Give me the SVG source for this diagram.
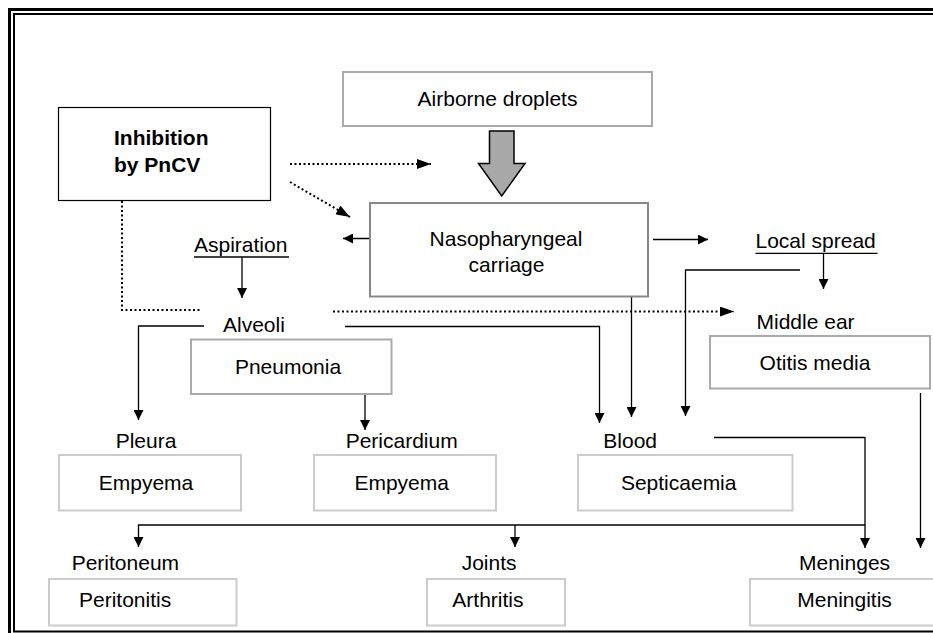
<svg xmlns="http://www.w3.org/2000/svg" width="933" height="633" viewBox="0 0 933 633">
<defs>
<style>
text{font-family:"Liberation Sans",Arial,sans-serif;font-size:21px;fill:#000}
.b{font-weight:bold}
.c{fill:none;stroke:#000;stroke-width:1.3}
.d{fill:none;stroke:#000;stroke-width:2;stroke-dasharray:2,2.5}
.bx{fill:#fff;stroke:#aaa;stroke-width:2}
.lt{fill:#fff;stroke:#ccc;stroke-width:2}
.ul{stroke:#000;stroke-width:1.3}
</style>
<marker id="ah" viewBox="0 0 10 10" refX="10" refY="5" markerWidth="10" markerHeight="10" markerUnits="userSpaceOnUse" orient="auto"><path d="M0,0L10,5L0,10z" fill="#000"/></marker>
<marker id="ahd" viewBox="0 0 14 10" refX="14" refY="5" markerWidth="14" markerHeight="10" markerUnits="userSpaceOnUse" orient="auto"><path d="M0,0L14,5L0,10z" fill="#000"/></marker>
</defs>
<rect x="0" y="0" width="933" height="633" fill="#fff"/>
<g id="frame">
<rect x="9.5" y="9.5" width="940" height="640" fill="none" stroke="#000" stroke-width="3"/>
<rect x="14" y="14" width="930" height="617.5" fill="none" stroke="#000" stroke-width="2"/>
</g>
<g id="connectors">
<path class="d" d="M290,164H431" marker-end="url(#ahd)"/>
<path class="d" d="M290,182L350,217" marker-end="url(#ahd)"/>
<path class="d" d="M122,201V310H201"/>
<path class="d" d="M333,311.5H734" marker-end="url(#ahd)"/>
<path class="c" d="M378,238.5H343" marker-end="url(#ah)"/>
<path class="c" d="M242,257V298" marker-end="url(#ah)"/>
<path class="c" d="M204,326H138.5V420" marker-end="url(#ah)"/>
<path class="c" d="M345,326.5H599.5V423" marker-end="url(#ah)"/>
<path class="c" d="M631.5,293V417" marker-end="url(#ah)"/>
<path class="c" d="M800,270H685.5V416" marker-end="url(#ah)"/>
<path class="c" d="M653,239.5H708" marker-end="url(#ah)"/>
<path class="c" d="M823.5,253V289" marker-end="url(#ah)"/>
<path class="c" d="M920.5,393V548" marker-end="url(#ah)"/>
<path class="c" d="M365,391V430" marker-end="url(#ah)"/>
<path class="c" d="M714,437.5H865V548" marker-end="url(#ah)"/>
<path class="c" d="M865,525H138.5V547" marker-end="url(#ah)"/>
<path class="c" d="M515,525V547" marker-end="url(#ah)"/>
<path d="M489.5,131H514V163.5H525L501.7,196L478.5,163.5H489.5Z" fill="#a8a8a8" stroke="#000" stroke-width="1.5"/>
</g>
<g id="inhibition">
<rect x="58.5" y="107.5" width="212" height="93" fill="#fff" stroke="#000" stroke-width="1.2"/>
<text class="b" x="114" y="145">Inhibition</text>
<text class="b" x="114" y="172">by PnCV</text>
</g>
<g id="airborne">
<rect class="bx" x="343" y="72" width="309" height="54"/>
<text x="497.5" y="106" text-anchor="middle">Airborne droplets</text>
</g>
<g id="nasopharyngeal">
<rect x="370" y="203" width="278" height="93.5" fill="#fff" stroke="#888" stroke-width="2"/>
<text x="506" y="246" text-anchor="middle">Nasopharyngeal</text>
<text x="506.5" y="271.5" text-anchor="middle">carriage</text>
</g>
<g id="aspiration">
<text x="194" y="251.5">Aspiration</text>
<line class="ul" x1="194" y1="257" x2="289" y2="257"/>
</g>
<g id="local-spread">
<text x="755.5" y="248">Local spread</text>
<line class="ul" x1="755.5" y1="253.3" x2="877.5" y2="253.3"/>
</g>
<g id="alveoli">
<text x="223" y="331.5">Alveoli</text>
</g>
<g id="pneumonia">
<rect class="bx" x="191" y="339.5" width="200.5" height="54.5"/>
<text x="288" y="373.5" text-anchor="middle">Pneumonia</text>
</g>
<g id="middle-ear">
<text x="756.5" y="328.5">Middle ear</text>
</g>
<g id="otitis">
<rect class="bx" x="710" y="336" width="220" height="52.5"/>
<text x="815" y="369.5" text-anchor="middle">Otitis media</text>
</g>
<g id="pleura">
<text x="146" y="447.5" text-anchor="middle">Pleura</text>
<rect class="lt" x="59" y="455" width="182" height="55.5"/>
<text x="146" y="490" text-anchor="middle">Empyema</text>
</g>
<g id="pericardium">
<text x="401.7" y="447.5" text-anchor="middle">Pericardium</text>
<rect class="lt" x="314" y="455" width="182" height="55.5"/>
<text x="401.7" y="490" text-anchor="middle">Empyema</text>
</g>
<g id="blood">
<text x="603.3" y="447.5">Blood</text>
<rect class="lt" x="578" y="455" width="214.5" height="55.5"/>
<text x="678.7" y="490" text-anchor="middle">Septicaemia</text>
</g>
<g id="peritoneum">
<text x="71.7" y="570">Peritoneum</text>
<rect class="lt" x="49" y="579" width="187.5" height="46.5"/>
<text x="79" y="606.7">Peritonitis</text>
</g>
<g id="joints">
<text x="461.7" y="570">Joints</text>
<rect class="lt" x="427" y="579" width="138" height="46.5"/>
<text x="452.3" y="606.7">Arthritis</text>
</g>
<g id="meninges">
<text x="799" y="570">Meninges</text>
<rect class="lt" x="750" y="579" width="200" height="46.5"/>
<text x="797.3" y="606.7">Meningitis</text>
</g>
</svg>
